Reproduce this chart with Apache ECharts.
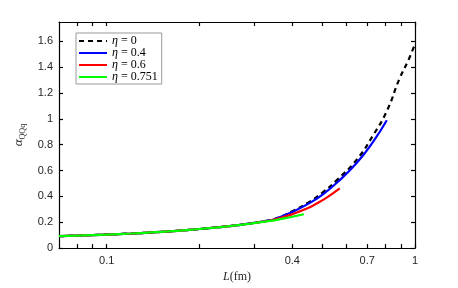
<!DOCTYPE html>
<html>
<head>
<meta charset="utf-8">
<script src="https://cdn.jsdelivr.net/npm/echarts@6/dist/echarts.min.js"></script>
<style>html,body{margin:0;padding:0;background:#fff;}#c{width:458px;height:288px;}</style>
</head>
<body>
<div id="c"></div>
<script>
// Data (L in fm, alpha_QQq)
const eta0 = [[0.07,0.092],[0.08,0.097],[0.09,0.101],[0.1,0.105],[0.12,0.113],[0.15,0.125],[0.2,0.148],[0.25,0.17],[0.3,0.195],[0.33,0.212],[0.35,0.225],[0.4,0.285],[0.45,0.352],[0.5,0.428],[0.56,0.53],[0.65,0.69],[0.73,0.87],[0.81,1.06],[0.89,1.31],[0.95,1.45],[1.0,1.58]];
const eta04 = [[0.07,0.092],[0.08,0.097],[0.09,0.101],[0.1,0.105],[0.12,0.113],[0.15,0.125],[0.2,0.148],[0.25,0.17],[0.3,0.195],[0.33,0.211],[0.35,0.223],[0.4,0.28],[0.45,0.342],[0.5,0.412],[0.56,0.51],[0.65,0.665],[0.73,0.82],[0.81,0.99]];
const eta06 = [[0.07,0.092],[0.08,0.097],[0.09,0.101],[0.1,0.105],[0.12,0.113],[0.15,0.125],[0.2,0.148],[0.25,0.17],[0.3,0.194],[0.33,0.21],[0.35,0.22],[0.4,0.262],[0.45,0.31],[0.48,0.345],[0.52,0.395],[0.57,0.462]];
const eta0751 = [[0.07,0.092],[0.08,0.097],[0.09,0.101],[0.1,0.105],[0.12,0.113],[0.15,0.125],[0.2,0.148],[0.25,0.17],[0.3,0.193],[0.33,0.207],[0.35,0.215],[0.4,0.243],[0.436,0.262]];
const seriesNames = ['0', '0.4', '0.6', '0.751'];
const xTickLabels = [0.1, 0.4, 0.7, 1];
const xTicks = [0.08, 0.09, 0.1, 0.2, 0.3, 0.4, 0.5, 0.6, 0.7, 0.8, 0.9, 1];
const yTicks = [0, 0.2, 0.4, 0.6, 0.8, 1, 1.2, 1.4, 1.6];

const chart = echarts.init(document.getElementById('c'));
const sans = 'Liberation Sans, Arial, sans-serif';
const serif = 'Liberation Serif, DejaVu Serif, serif';
const axisLine = {show: true, onZero: false, lineStyle: {color: '#000', width: 1.2}};
const tick = {show: true, inside: true, length: 4, lineStyle: {color: '#000', width: 1.2}};

function xAxisCfg(pos, labels) {
  return {
    type: 'log', logBase: 10, min: 0.07, max: 1, position: pos,
    axisLine: axisLine,
    axisTick: Object.assign({}, tick, {customValues: xTicks}),
    minorTick: {show: false},
    axisLabel: {show: labels, customValues: xTickLabels, color: '#262626', fontFamily: sans, fontSize: 11, margin: 7,
      formatter: v => String(Math.round(v * 10) / 10)},
    splitLine: {show: false},
    name: labels ? '{i|L}(fm)' : '',
    nameLocation: 'middle', nameGap: 18,
    nameTextStyle: {color: '#262626', fontFamily: serif, fontSize: 12, rich: {i: {fontStyle: 'italic', fontFamily: serif, fontSize: 12, color: '#262626'}}}
  };
}
function yAxisCfg(pos, labels) {
  return {
    type: 'value', min: 0, max: 1.75, position: pos,
    axisLine: axisLine,
    axisTick: Object.assign({}, tick, {customValues: yTicks}),
    axisLabel: {show: labels, customValues: yTicks, color: '#262626', fontFamily: sans, fontSize: 11, margin: 6,
      formatter: v => String(Math.round(v * 10) / 10)},
    splitLine: {show: false},
    name: labels ? '{a|α}{s|QQq}' : '',
    nameLocation: 'middle', nameGap: 32, nameRotate: 90,
    nameTextStyle: {color: '#262626', rich: {
      a: {fontStyle: 'italic', fontFamily: serif, fontSize: 13, color: '#262626', verticalAlign: 'bottom'},
      s: {fontFamily: serif, fontSize: 8, color: '#262626', verticalAlign: 'bottom', padding: [0,0,-2,0]}
    }}
  };
}

const colors = ['#000000', '#0000ff', '#ff0000', '#00ff00'];
const datas = [eta0, eta04, eta06, eta0751];
const series = datas.map((d, i) => ({
  name: seriesNames[i],
  type: 'line', data: d, smooth: true, showSymbol: false, symbol: 'none',
  xAxisIndex: 0, yAxisIndex: 0,
  lineStyle: {color: colors[i], width: 2.2, type: i === 0 ? [5, 4] : 'solid'},
  itemStyle: {color: colors[i]},
  z: 2 + i
}));

chart.setOption({
  animation: false,
  backgroundColor: '#fff',
  grid: {left: 59, right: 43, top: 22, bottom: 37, containLabel: false},
  xAxis: [xAxisCfg('bottom', true), xAxisCfg('top', false)],
  yAxis: [yAxisCfg('left', true), yAxisCfg('right', false)],
  legend: {
    left: 76, top: 33, orient: 'vertical',
    padding: [2, 4, 1, 2],
    itemWidth: 28, itemHeight: 14, itemGap: 0,
    itemStyle: {opacity: 0},
    borderColor: '#999', borderWidth: 1, borderRadius: 0, backgroundColor: '#fff',
    data: seriesNames,
    formatter: n => '{i|η} = ' + n,
    textStyle: {fontFamily: serif, fontSize: 12, color: '#000', rich: {i: {fontStyle: 'italic', fontFamily: serif, fontSize: 12, color: '#000'}}}
  },
  series: series
});
</script>
</body>
</html>
